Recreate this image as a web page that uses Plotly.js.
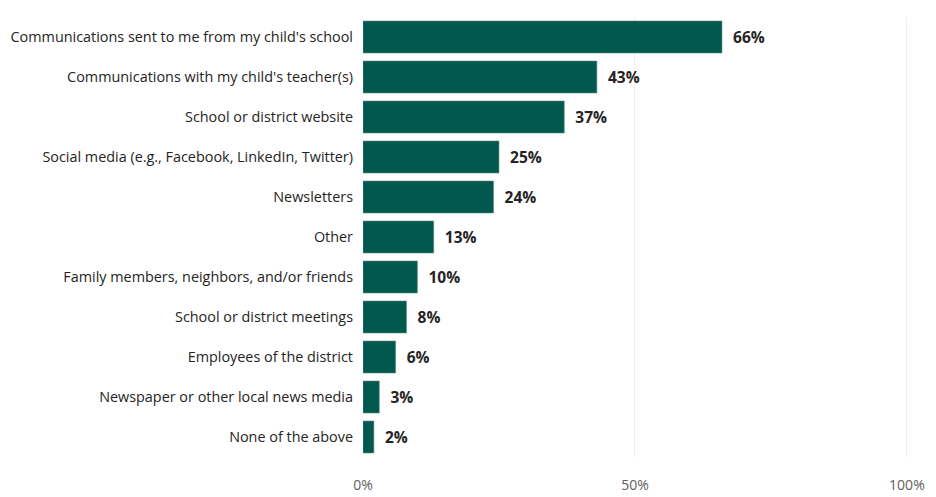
<!DOCTYPE html>
<html>
<head>
<meta charset="utf-8">
<script src="https://cdn.plot.ly/plotly-3.0.1.min.js"></script>
<style>html,body{margin:0;padding:0;background:#fff;}#chart{width:936px;height:497px;}</style>
</head>
<body>
<div id="chart"></div>
<script>
const categories = [
  "Communications sent to me from my child's school",
  "Communications with my child's teacher(s)",
  "School or district website",
  "Social media (e.g., Facebook, LinkedIn, Twitter)",
  "Newsletters",
  "Other",
  "Family members, neighbors, and/or friends",
  "School or district meetings",
  "Employees of the district",
  "Newspaper or other local news media",
  "None of the above"
];
const values = [66, 43, 37, 25, 24, 13, 10, 8, 6, 3, 2];
const valueLabels = values.map(v => "  " + v + "%");
const tickVals = [0, 50, 100];
const tickText = ["0%", "50%", "100%"];

const trace = {
  type: "bar",
  orientation: "h",
  y: categories,
  x: values,
  text: valueLabels,
  textposition: "outside",
  cliponaxis: false,
  textfont: {family: "Open Sans, Noto Sans, sans-serif", size: 15.5, color: "#252423", weight: "bold"},
  marker: {color: "#00594C", line: {color: "#5f8f86", width: 0.6}},
  width: 0.8,
  hoverinfo: "none"
};

const layout = {
  width: 936, height: 497,
  margin: {l: 363, r: 28, t: 17, b: 40},
  paper_bgcolor: "#fff", plot_bgcolor: "#fff",
  showlegend: false,
  font: {family: "Open Sans, Noto Sans, sans-serif", color: "#252423"},
  xaxis: {
    range: [0, 100.2], tickvals: tickVals, ticktext: tickText,
    showgrid: true, gridcolor: "#eeeeee", gridwidth: 1,
    zeroline: false, showline: false, ticks: "",
    tickfont: {size: 14, color: "#605E5C"},
    ticklabelstandoff: 18, fixedrange: true
  },
  yaxis: {
    autorange: "reversed", showgrid: false, zeroline: false, showline: false,
    ticks: "", tickfont: {size: 14.4, color: "#252423"},
    ticklabelstandoff: 9, fixedrange: true
  }
};

Plotly.newPlot("chart", [trace], layout, {displayModeBar: false, staticPlot: true});
</script>
</body>
</html>
